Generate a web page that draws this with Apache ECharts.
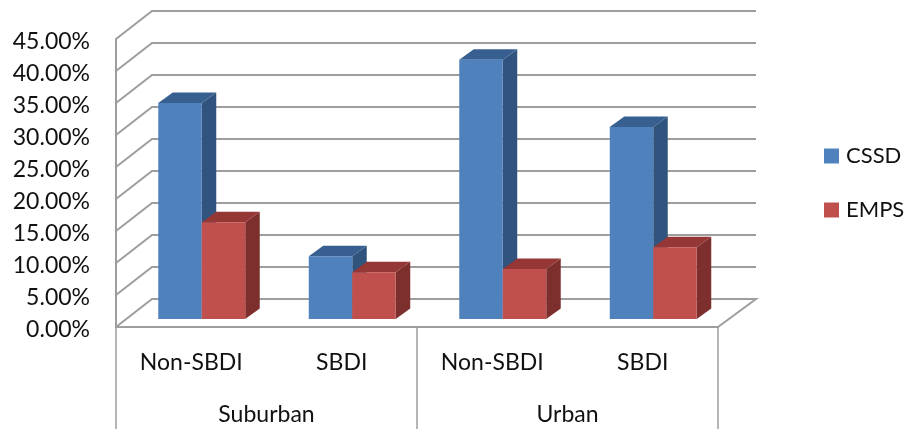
<!DOCTYPE html>
<html>
<head>
<meta charset="utf-8">
<style>html,body{margin:0;padding:0;background:#fff}#chart{width:909px;height:429px}</style>
<script src="https://cdn.jsdelivr.net/npm/echarts@6/dist/echarts.min.js"></script>
</head>
<body>
<div id="chart"></div>
<script>
// Shares by area type and SBDI status
const groups = ['Suburban', 'Urban'];
const categories = ['Non-SBDI', 'SBDI', 'Non-SBDI', 'SBDI'];
const cssd = [33.75, 9.8, 40.5, 30.0];
const emps = [15.1, 7.3, 7.8, 11.2];
const yTicks = [0, 5, 10, 15, 20, 25, 30, 35, 40, 45];

// Oblique projection of the box: wall depth, bar depth, bar offset from the front plane
const WALL = { dx: 36, dy: 28 };
const BAR = { dx: 14.5, dy: 10.5, shiftX: 10.5, shiftY: 8, widthRatio: 0.289 };
const FONT = 'Lato';
const GRID_COLOR = '#9e9e9e';

const shades = {
  CSSD: { front: '#4f81bd', side: '#31547f', top: '#375f90' },
  EMPS: { front: '#c0504d', side: '#7c2f2d', top: '#943735' }
};

function polygon(points, fill) {
  return { type: 'polygon', shape: { points: points }, style: { fill: fill } };
}

// One box: front face, side face and top face; sideIndex 0 sits left of the band centre
function boxRenderer(name, sideIndex) {
  const c = shades[name];
  return function (params, api) {
    const top = api.coord([api.value(0), api.value(1)]);
    const base = api.coord([api.value(0), 0]);
    const w = api.size([1, 0])[0] * BAR.widthRatio;
    const x0 = top[0] + BAR.shiftX + (sideIndex - 1) * w;
    const x1 = x0 + w;
    const yT = top[1] - BAR.shiftY;
    const yB = base[1] - BAR.shiftY;
    return {
      type: 'group',
      children: [
        polygon([[x1, yT], [x1 + BAR.dx, yT - BAR.dy], [x1 + BAR.dx, yB - BAR.dy], [x1, yB]], c.side),
        polygon([[x0, yT], [x0 + BAR.dx, yT - BAR.dy], [x1 + BAR.dx, yT - BAR.dy], [x1, yT]], c.top),
        polygon([[x0, yT], [x1, yT], [x1, yB], [x0, yB]], c.front)
      ]
    };
  };
}

// Gridline wrapped round the left wall and along the back wall
function wallLineRenderer(params, api) {
  const rect = params.coordSys;
  const y = api.coord([0, api.value(1)])[1];
  const left = rect.x, right = rect.x + rect.width;
  const points = [[left, y], [left + WALL.dx, y - WALL.dy], [right + WALL.dx + 2, y - WALL.dy]];
  if (api.value(1) === 0) {
    points.push([right, y]);
  }
  return {
    type: 'polyline',
    shape: { points: points },
    style: { stroke: GRID_COLOR, lineWidth: 2, fill: null }
  };
}

const chart = echarts.init(document.getElementById('chart'), null, { renderer: 'canvas' });
chart.setOption({
  animation: false,
  backgroundColor: '#fff',
  grid: { left: 116, top: 39, width: 602, height: 288, containLabel: false },
  legend: {
    orient: 'vertical',
    left: 824,
    top: 145,
    padding: 0,
    itemWidth: 15,
    itemHeight: 15,
    itemGap: 32,
    data: [{ name: 'CSSD', icon: 'rect' }, { name: 'EMPS', icon: 'rect' }],
    textStyle: { fontFamily: FONT, fontSize: 22, color: '#111', padding: [0, 0, 0, 2] }
  },
  xAxis: [
    {
      type: 'category',
      position: 'bottom',
      data: categories,
      axisLine: { lineStyle: { color: GRID_COLOR, width: 2 } },
      axisTick: { show: false },
      axisLabel: { interval: 0, margin: 24, fontFamily: FONT, fontSize: 23, color: '#111' }
    },
    {
      type: 'category',
      position: 'bottom',
      data: groups,
      axisLine: { show: false },
      axisTick: { show: true, length: 102, lineStyle: { color: GRID_COLOR, width: 1.5 } },
      axisLabel: { interval: 0, margin: 76, fontFamily: FONT, fontSize: 23, color: '#111' }
    }
  ],
  yAxis: {
    type: 'value',
    min: 0,
    max: 45,
    interval: 5,
    splitLine: { show: false },
    axisTick: { show: false },
    axisLine: { show: true, lineStyle: { color: GRID_COLOR, width: 2 } },
    axisLabel: {
      margin: 26,
      fontFamily: FONT,
      fontSize: 23,
      color: '#111',
      verticalAlign: 'top',
      lineHeight: 6,
      formatter: function (v) { return v.toFixed(2) + '%'; }
    }
  },
  series: [
    {
      type: 'custom',
      name: 'walls',
      silent: true,
      clip: false,
      encode: { x: 0, y: 1 },
      data: yTicks.map(function (v) { return [0, v]; }),
      renderItem: wallLineRenderer
    },
    {
      type: 'custom',
      name: 'CSSD',
      clip: false,
      itemStyle: { color: shades.CSSD.front },
      encode: { x: 0, y: 1 },
      data: cssd.map(function (v, i) { return [i, v]; }),
      renderItem: boxRenderer('CSSD', 0)
    },
    {
      type: 'custom',
      name: 'EMPS',
      clip: false,
      itemStyle: { color: shades.EMPS.front },
      encode: { x: 0, y: 1 },
      data: emps.map(function (v, i) { return [i, v]; }),
      renderItem: boxRenderer('EMPS', 1)
    }
  ]
});
</script>
</body>
</html>
